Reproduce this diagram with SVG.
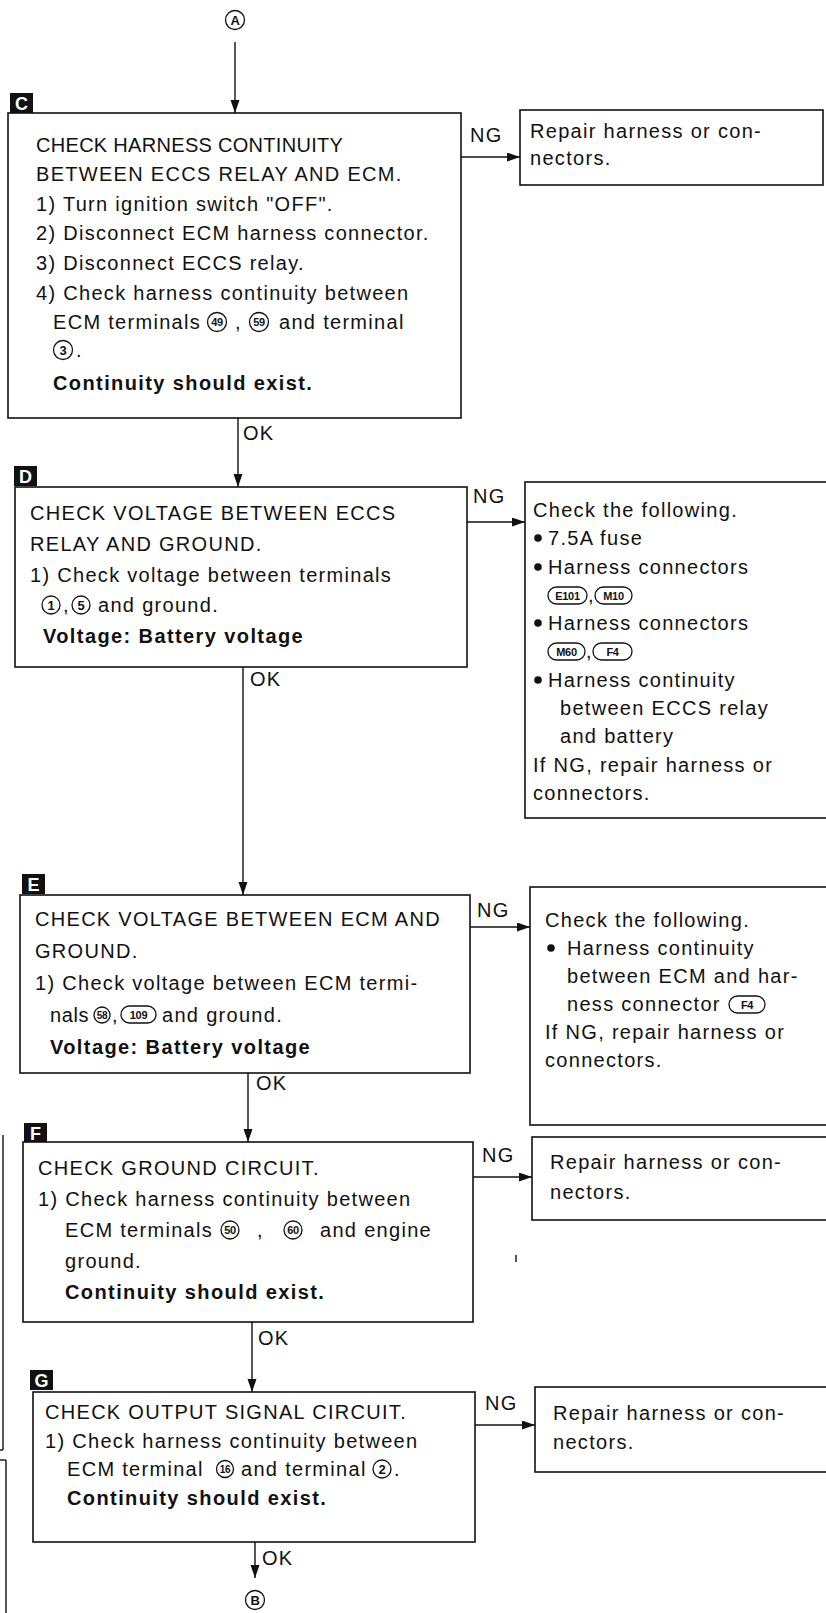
<svg xmlns="http://www.w3.org/2000/svg" width="826" height="1613" viewBox="0 0 826 1613">
<defs>
<style>
.t{font-family:"Liberation Sans",Arial,Helvetica,sans-serif;font-size:20px;letter-spacing:1.3px;fill:#111}
.b{font-weight:bold;letter-spacing:1.4px}
.box{fill:#fff;stroke:#111;stroke-width:1.6}
.ln{stroke:#111;stroke-width:1.4;fill:none}
.cc{fill:none;stroke:#111;stroke-width:1.3}
.cn{font-family:"Liberation Sans",Arial,sans-serif;font-weight:bold;font-size:11px;fill:#111;text-anchor:middle;letter-spacing:-0.3px}
.lab{fill:#111}
.labt{font-family:"Liberation Sans",Arial,sans-serif;font-weight:bold;font-size:18px;fill:#fff;text-anchor:middle}
.bul{fill:#111}
</style>
<marker id="ar" markerUnits="userSpaceOnUse" markerWidth="14" markerHeight="10" refX="13" refY="4.5" orient="auto">
<path d="M0,0 L13,4.5 L0,9 z" fill="#111"/>
</marker>
</defs>
<rect width="826" height="1613" fill="#fff"/>

<g id="connectors">
<line class="ln" x1="235" y1="42" x2="235" y2="113" marker-end="url(#ar)"/>
<line class="ln" x1="461" y1="157" x2="520" y2="157" marker-end="url(#ar)"/>
<line class="ln" x1="238" y1="418" x2="238" y2="487" marker-end="url(#ar)"/>
<line class="ln" x1="467" y1="522" x2="525" y2="522" marker-end="url(#ar)"/>
<line class="ln" x1="243" y1="667" x2="243" y2="895" marker-end="url(#ar)"/>
<line class="ln" x1="470" y1="927" x2="530" y2="927" marker-end="url(#ar)"/>
<line class="ln" x1="248" y1="1073" x2="248" y2="1142" marker-end="url(#ar)"/>
<line class="ln" x1="473" y1="1177" x2="532" y2="1177" marker-end="url(#ar)"/>
<line class="ln" x1="252" y1="1322" x2="252" y2="1392" marker-end="url(#ar)"/>
<line class="ln" x1="475" y1="1425" x2="535" y2="1425" marker-end="url(#ar)"/>
<line class="ln" x1="255" y1="1542" x2="255" y2="1578" marker-end="url(#ar)"/>
<text class="t" x="470" y="142">NG</text>
<text class="t" x="243" y="440">OK</text>
<text class="t" x="473" y="503">NG</text>
<text class="t" x="250" y="686">OK</text>
<text class="t" x="477" y="917">NG</text>
<text class="t" x="256" y="1090">OK</text>
<text class="t" x="482" y="1162">NG</text>
<text class="t" x="258" y="1345">OK</text>
<text class="t" x="485" y="1410">NG</text>
<text class="t" x="262" y="1565">OK</text>
</g>

<g id="nodeA">
<circle class="cc" cx="235" cy="20" r="9.5"/>
<text class="cn" x="235" y="24.5" style="font-size:13px">A</text>
</g>

<g id="nodeC">
<rect class="lab" x="10" y="93" width="23" height="20"/>
<text class="labt" x="21.5" y="110">C</text>
<rect class="box" x="8" y="113" width="453" height="305"/>
<text class="t" x="36" y="152" style="letter-spacing:0.3px">CHECK HARNESS CONTINUITY</text>
<text class="t" x="36" y="181">BETWEEN ECCS RELAY AND ECM.</text>
<text class="t" x="36" y="211">1) Turn ignition switch "OFF".</text>
<text class="t" x="36" y="240">2) Disconnect ECM harness connector.</text>
<text class="t" x="36" y="270">3) Disconnect ECCS relay.</text>
<text class="t" x="36" y="300">4) Check harness continuity between</text>
<text class="t" x="53" y="329">ECM terminals</text>
<circle class="cc" cx="217" cy="322" r="9.5"/><text class="cn" x="217" y="326">49</text>
<text class="t" x="235" y="329">,</text>
<circle class="cc" cx="259" cy="322" r="9.5"/><text class="cn" x="259" y="326">59</text>
<text class="t" x="279" y="329">and terminal</text>
<circle class="cc" cx="63" cy="350" r="9.5"/><text class="cn" x="63" y="354.5" style="font-size:13px">3</text>
<text class="t" x="76" y="357">.</text>
<text class="t b" x="53" y="390">Continuity should exist.</text>
</g>

<g id="nodeC_NG">
<rect class="box" x="520" y="110" width="303" height="75"/>
<text class="t" x="530" y="138">Repair harness or con-</text>
<text class="t" x="530" y="165">nectors.</text>
</g>

<g id="nodeD">
<rect class="lab" x="14" y="466" width="23" height="20"/>
<text class="labt" x="25.5" y="483">D</text>
<rect class="box" x="15" y="487" width="452" height="180"/>
<text class="t" x="30" y="520">CHECK VOLTAGE BETWEEN ECCS</text>
<text class="t" x="30" y="551">RELAY AND GROUND.</text>
<text class="t" x="30" y="582">1) Check voltage between terminals</text>
<circle class="cc" cx="51" cy="605" r="9"/><text class="cn" x="51" y="609.5" style="font-size:13px">1</text>
<text class="t" x="63" y="612">,</text>
<circle class="cc" cx="81" cy="605" r="9"/><text class="cn" x="81" y="609.5" style="font-size:13px">5</text>
<text class="t" x="98" y="612">and ground.</text>
<text class="t b" x="43" y="643">Voltage: Battery voltage</text>
</g>

<g id="nodeD_NG">
<rect class="box" x="525" y="482" width="310" height="336"/>
<text class="t" x="533" y="517">Check the following.</text>
<circle class="bul" cx="538" cy="538" r="3.8"/>
<text class="t" x="548" y="545">7.5A fuse</text>
<circle class="bul" cx="538" cy="567" r="3.8"/>
<text class="t" x="548" y="574">Harness connectors</text>
<rect class="cc" x="548" y="587" width="39" height="17" rx="8.5"/><text class="cn" x="567.5" y="599.5">E101</text>
<text class="t" x="588" y="602">,</text>
<rect class="cc" x="595" y="587" width="37" height="17" rx="8.5"/><text class="cn" x="613.5" y="599.5">M10</text>
<circle class="bul" cx="538" cy="623" r="3.8"/>
<text class="t" x="548" y="630">Harness connectors</text>
<rect class="cc" x="548" y="643" width="37" height="17" rx="8.5"/><text class="cn" x="566.5" y="655.5">M60</text>
<text class="t" x="586" y="658">,</text>
<rect class="cc" x="593" y="643" width="39" height="17" rx="8.5"/><text class="cn" x="612.5" y="655.5">F4</text>
<circle class="bul" cx="538" cy="680" r="3.8"/>
<text class="t" x="548" y="687">Harness continuity</text>
<text class="t" x="560" y="715">between ECCS relay</text>
<text class="t" x="560" y="743">and battery</text>
<text class="t" x="533" y="772">If NG, repair harness or</text>
<text class="t" x="533" y="800">connectors.</text>
</g>

<g id="nodeE">
<rect class="lab" x="22" y="874" width="23" height="20"/>
<text class="labt" x="33.5" y="891">E</text>
<rect class="box" x="20" y="895" width="450" height="178"/>
<text class="t" x="35" y="926">CHECK VOLTAGE BETWEEN ECM AND</text>
<text class="t" x="35" y="958">GROUND.</text>
<text class="t" x="35" y="990">1) Check voltage between ECM termi-</text>
<text class="t" x="50" y="1022" style="letter-spacing:0.6px">nals</text>
<circle class="cc" cx="102" cy="1015" r="8"/><text class="cn" x="102" y="1019" style="font-size:10px">58</text>
<text class="t" x="112" y="1022">,</text>
<rect class="cc" x="121" y="1006" width="35" height="17" rx="8.5"/><text class="cn" x="138.5" y="1018.5">109</text>
<text class="t" x="162" y="1022">and ground.</text>
<text class="t b" x="50" y="1054">Voltage: Battery voltage</text>
</g>

<g id="nodeE_NG">
<rect class="box" x="530" y="887" width="305" height="238"/>
<text class="t" x="545" y="927">Check the following.</text>
<circle class="bul" cx="551" cy="948" r="3.8"/>
<text class="t" x="567" y="955">Harness continuity</text>
<text class="t" x="567" y="983">between ECM and har-</text>
<text class="t" x="567" y="1011">ness connector</text>
<rect class="cc" x="729" y="996" width="36" height="17" rx="8.5"/><text class="cn" x="747" y="1008.5">F4</text>
<text class="t" x="545" y="1039">If NG, repair harness or</text>
<text class="t" x="545" y="1067">connectors.</text>
</g>

<g id="nodeF">
<rect class="lab" x="24" y="1123" width="23" height="20"/>
<text class="labt" x="35.5" y="1140">F</text>
<rect class="box" x="23" y="1142" width="450" height="180"/>
<text class="t" x="38" y="1175">CHECK GROUND CIRCUIT.</text>
<text class="t" x="38" y="1206">1) Check harness continuity between</text>
<text class="t" x="65" y="1237">ECM terminals</text>
<circle class="cc" cx="230" cy="1230" r="9"/><text class="cn" x="230" y="1234">50</text>
<text class="t" x="257" y="1237">,</text>
<circle class="cc" cx="293" cy="1230" r="9"/><text class="cn" x="293" y="1234">60</text>
<text class="t" x="320" y="1237">and engine</text>
<text class="t" x="65" y="1268">ground.</text>
<text class="t b" x="65" y="1299">Continuity should exist.</text>
</g>

<g id="nodeF_NG">
<rect class="box" x="532" y="1137" width="305" height="83"/>
<text class="t" x="550" y="1169">Repair harness or con-</text>
<text class="t" x="550" y="1199">nectors.</text>
</g>

<g id="nodeG">
<rect class="lab" x="30" y="1370" width="23" height="20"/>
<text class="labt" x="41.5" y="1387">G</text>
<rect class="box" x="33" y="1392" width="442" height="150"/>
<text class="t" x="45" y="1419">CHECK OUTPUT SIGNAL CIRCUIT.</text>
<text class="t" x="45" y="1448">1) Check harness continuity between</text>
<text class="t" x="67" y="1476">ECM terminal</text>
<circle class="cc" cx="225" cy="1469" r="8.5"/><text class="cn" x="225" y="1473" style="font-size:10px">16</text>
<text class="t" x="241" y="1476">and terminal</text>
<circle class="cc" cx="382" cy="1469" r="9"/><text class="cn" x="382" y="1473.5" style="font-size:13px">2</text>
<text class="t" x="394" y="1476">.</text>
<text class="t b" x="67" y="1505">Continuity should exist.</text>
</g>

<g id="nodeG_NG">
<rect class="box" x="535" y="1387" width="300" height="85"/>
<text class="t" x="553" y="1420">Repair harness or con-</text>
<text class="t" x="553" y="1449">nectors.</text>
</g>

<g id="nodeB">
<circle class="cc" cx="255" cy="1600" r="9.5"/>
<text class="cn" x="255" y="1604.5" style="font-size:13px">B</text>
</g>

<g id="marks">
<line class="ln" x1="3" y1="1135" x2="3" y2="1450"/>
<line class="ln" x1="0" y1="1450" x2="3" y2="1450"/>
<line class="ln" x1="6" y1="1460" x2="6" y2="1613"/>
<line class="ln" x1="0" y1="1460" x2="6" y2="1460"/>
<line class="ln" x1="516" y1="1255" x2="516" y2="1262" stroke-width="1"/>
</g>
</svg>
